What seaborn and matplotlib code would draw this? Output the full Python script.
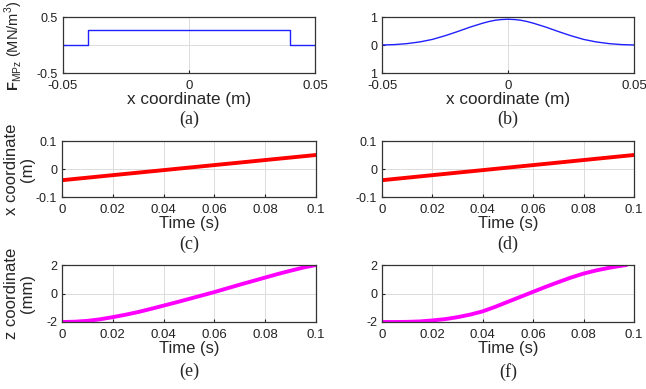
import numpy as np
import pandas as pd
import matplotlib
matplotlib.use('Agg')
import matplotlib.pyplot as plt
import seaborn as sns

# ---- data ----
# (a) force density profile, step shape
step_x = [-0.05, -0.04, 0.04, 0.05]
step_y = [0.0, 0.27, 0.0, 0.0]

# (b) bell-shaped profile
bell_x = [-0.05, -0.045, -0.04, -0.035, -0.03, -0.025, -0.02, -0.015, -0.01, -0.0075, -0.005, -0.0025, 0.0,
          0.0025, 0.005, 0.0075, 0.01, 0.015, 0.02, 0.025, 0.03, 0.035, 0.04, 0.045, 0.05]
bell_y = [0.0, 0.015, 0.05, 0.11, 0.20, 0.33, 0.48, 0.64, 0.78, 0.84, 0.885, 0.91, 0.92,
          0.91, 0.885, 0.84, 0.78, 0.64, 0.48, 0.33, 0.20, 0.11, 0.05, 0.015, 0.0]

# (c), (d) x coordinate vs time
t_lin = [0.0, 0.1]
xc_c = [-0.04, 0.05]
xc_d = [-0.04, 0.05]

# (e), (f) z coordinate vs time
t_e = [0.0, 0.005, 0.01, 0.015, 0.02, 0.025, 0.03, 0.035, 0.04, 0.045, 0.05,
       0.055, 0.06, 0.065, 0.07, 0.075, 0.08, 0.085, 0.09, 0.095, 0.1]
z_e = [-2.0, -1.98, -1.92, -1.81, -1.66, -1.49, -1.30, -1.08, -0.85, -0.62, -0.38,
       -0.14, 0.10, 0.36, 0.62, 0.87, 1.12, 1.37, 1.60, 1.82, 2.0]
t_f = [0.0, 0.005, 0.01, 0.015, 0.02, 0.025, 0.03, 0.035, 0.04, 0.045, 0.05,
       0.055, 0.06, 0.065, 0.07, 0.075, 0.08, 0.085, 0.09, 0.094, 0.097]
z_f = [-2.0, -2.0, -1.99, -1.96, -1.89, -1.80, -1.66, -1.48, -1.25, -0.93, -0.58,
       -0.23, 0.12, 0.47, 0.80, 1.12, 1.40, 1.62, 1.80, 1.92, 2.0]

pos_ticks = [-0.05, 0, 0.05]
pos_labels = ['-0.05', '0', '0.05']
time_ticks = [0, 0.02, 0.04, 0.06, 0.08, 0.1]
time_labels = ['0', '0.02', '0.04', '0.06', '0.08', '0.1']

sns.set_theme(style='white')
plt.rcParams['font.family'] = ['Liberation Sans', 'DejaVu Sans']
plt.rcParams['mathtext.fontset'] = 'custom'
plt.rcParams['mathtext.rm'] = 'Liberation Sans'
plt.rcParams['mathtext.bf'] = 'Liberation Sans:bold'
plt.rcParams['xtick.direction'] = 'in'
plt.rcParams['ytick.direction'] = 'in'

fig = plt.figure(figsize=(6.46, 3.89), dpi=100)
W, H = 646, 389


def make_ax(left, top, right, bottom):
    return fig.add_axes([left / W, 1 - bottom / H, (right - left) / W, (bottom - top) / H])


axa = make_ax(63, 17, 315, 73)
axb = make_ax(382, 17, 634, 73)
axc = make_ax(62, 141, 316, 197)
axd = make_ax(382, 141, 634, 197)
axe = make_ax(62, 265, 316, 322)
axf = make_ax(382, 265, 634, 322)

sns.lineplot(x=step_x, y=step_y, ax=axa, color='#2020ff', lw=1.0,
             drawstyle='steps-post', estimator=None)
sns.lineplot(x=bell_x, y=bell_y, ax=axb, color='#2020ff', lw=1.0, estimator=None)
sns.lineplot(x=t_lin, y=xc_c, ax=axc, color='#ff0000', lw=2.8, estimator=None)
sns.lineplot(x=t_lin, y=xc_d, ax=axd, color='#ff0000', lw=2.8, estimator=None)
sns.lineplot(x=t_e, y=z_e, ax=axe, color='#ff00ff', lw=2.8, estimator=None)
sns.lineplot(x=t_f, y=z_f, ax=axf, color='#ff00ff', lw=2.8, estimator=None)

for ax in (axa, axb, axc, axd, axe, axf):
    ax.grid(True, color='#dcdcdc', lw=0.7)
    ax.set_axisbelow(True)
    for s in ax.spines.values():
        s.set_color('#333333')
        s.set_linewidth(0.9)
    ax.tick_params(length=2.5, width=0.8, colors='#222222',
                   top=False, right=False, bottom=True, left=True)
    ax.tick_params(axis='x', pad=4.8, labelsize=9.5)
    ax.tick_params(axis='y', pad=3.5, labelsize=9)

# position panels
for ax in (axa, axb):
    ax.set_xlim(-0.05, 0.05)
    ax.set_xticks(pos_ticks)
    ax.set_xticklabels(pos_labels)
    ax.set_xlabel('x coordinate (m)', fontsize=12.3, labelpad=0)
axa.set_ylim(-0.5, 0.5)
axa.set_yticks([-0.5, 0, 0.5])
axa.set_yticklabels(['-0.5', '', '0.5'])
axa.set_ylabel(r'$\mathbf{F}_{\mathrm{MPz}}$ (MN/m$^3$)', fontsize=10.5)
axa.yaxis.set_label_coords(-0.15, 0.48)
axb.set_ylim(-1, 1)
axb.set_yticks([-1, 0, 1])
axb.set_yticklabels(['1', '0', '1'])

# time panels
for ax in (axc, axd, axe, axf):
    ax.set_xlim(0, 0.1)
    ax.set_xticks(time_ticks)
    ax.set_xticklabels(time_labels)
    ax.set_xlabel('Time (s)', fontsize=12, labelpad=0)
for ax in (axc, axd):
    ax.set_ylim(-0.1, 0.1)
    ax.set_yticks([-0.1, 0, 0.1])
    ax.set_yticklabels(['-0.1', '0', '0.1'])
for ax in (axe, axf):
    ax.set_ylim(-2, 2)
    ax.set_yticks([-2, 0, 2])
    ax.set_yticklabels(['-2', '0', '2'])
axc.set_ylabel('x coordinate\n(m)', fontsize=12, linespacing=1.15)
axc.yaxis.set_label_coords(-0.105, 0.5)
axe.set_ylabel('z coordinate\n(mm)', fontsize=12, linespacing=1.15)
axe.yaxis.set_label_coords(-0.105, 0.5)

# sub-figure letters
for ax, lab, off in ((axa, '(a)', -0.82), (axb, '(b)', -0.82), (axc, '(c)', -0.84),
                     (axd, '(d)', -0.84), (axe, '(e)', -0.87), (axf, '(f)', -0.87)):
    ax.text(0.5, off, lab, transform=ax.transAxes, ha='center', va='center',
            fontsize=13, family=['Liberation Serif', 'DejaVu Serif'])

fig.savefig('out.png', dpi=100)
